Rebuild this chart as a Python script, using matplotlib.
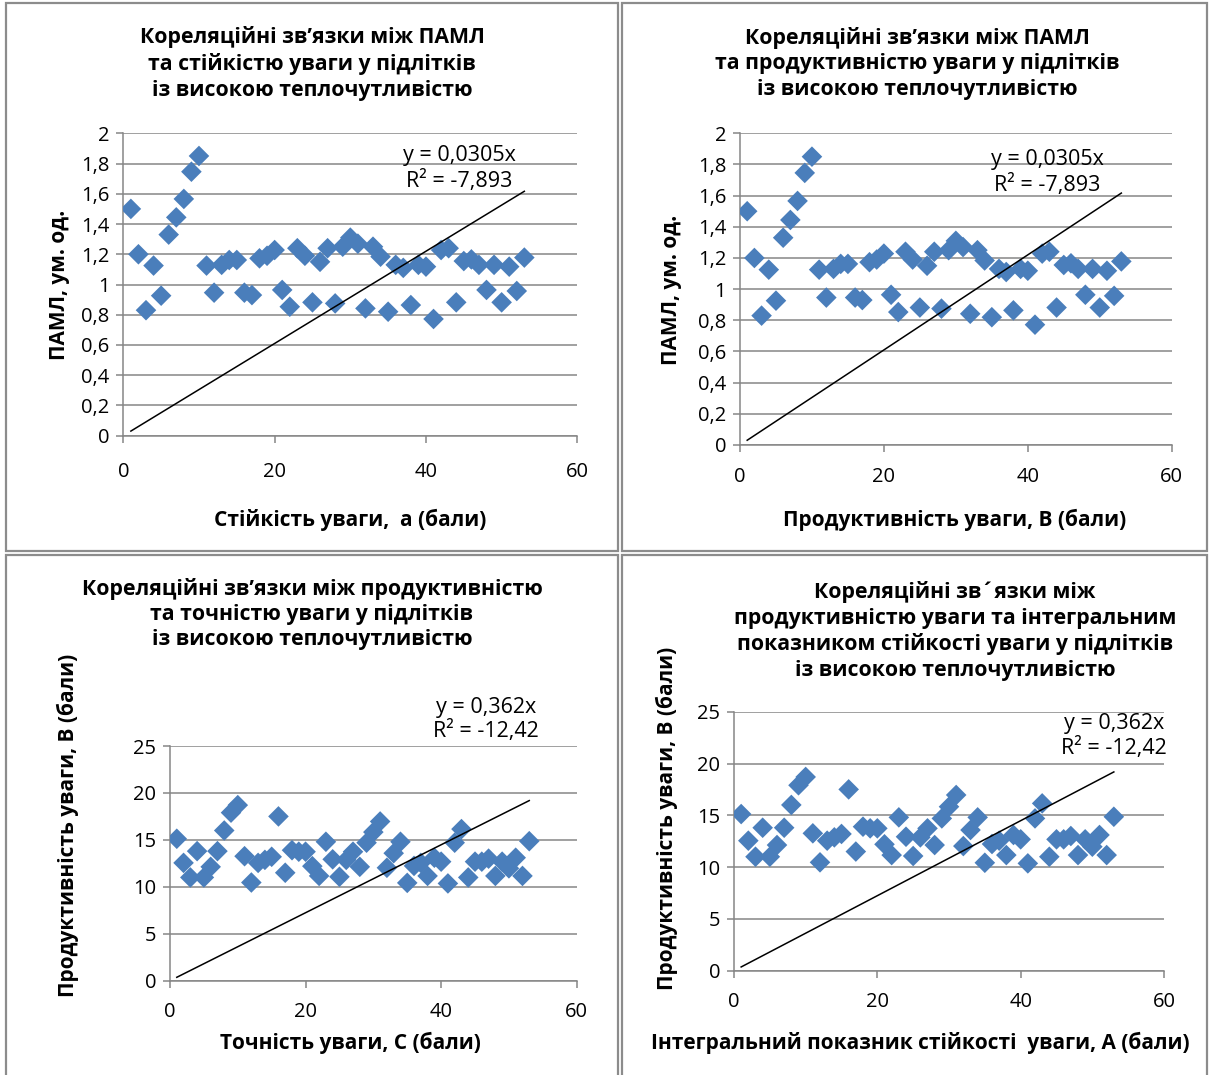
import numpy as np
import matplotlib
matplotlib.use("Agg")
import matplotlib.pyplot as plt
from matplotlib.patches import Rectangle
from matplotlib.ticker import FuncFormatter

plt.rcParams['font.family'] = ['Open Sans', 'DejaVu Sans']

# respondents (x positions of the points)
respondents = [1, 2, 3, 4, 5, 6, 7, 8, 9, 10, 11, 12, 13, 14, 15, 16, 17, 18,
               19, 20, 21, 22, 23, 24, 25, 26, 27, 28, 29, 30, 31, 32, 33, 34,
               35, 36, 37, 38, 39, 40, 41, 42, 43, 44, 45, 46, 47, 48, 49, 50,
               51, 52, 53]

# ПАМЛ values (top charts)
paml = [1.50, 1.20, 0.83, 1.125, 0.926, 1.33, 1.444, 1.566, 1.746, 1.85,
        1.125, 0.946, 1.13, 1.162, 1.162, 0.946, 0.93, 1.173, 1.19, 1.228,
        0.964, 0.853, 1.24, 1.19, 0.882, 1.15, 1.24, 0.875, 1.25, 1.31,
        1.27, 0.842, 1.25, 1.184, 0.82, 1.13, 1.11, 0.864, 1.13, 1.118,
        0.772, 1.228, 1.24, 0.882, 1.155, 1.166, 1.13, 0.964, 1.13, 0.882,
        1.118, 0.957, 1.178]

# productivity of attention (bottom charts)
productivity = [15.12, 12.55, 11.0, 13.8, 11.0, 12.13, 13.8, 16.0, 17.9, 18.7,
                13.26, 10.46, 12.55, 12.87, 13.2, 17.5, 11.5, 13.9, 13.74, 13.74,
                12.2, 11.16, 14.8, 12.93, 11.07, 12.87, 13.74, 12.13, 14.7, 15.83,
                16.96, 12.03, 13.58, 14.8, 10.42, 12.23, 12.55, 11.16, 13.1, 12.68,
                10.36, 14.7, 16.15, 11.0, 12.68, 12.68, 13.0, 11.16, 12.68, 11.97,
                13.1, 11.16, 14.86]

slope_top = 0.0305
slope_bottom = 0.362
eq_top = ["y = 0,0305x", "R² = -7,893"]
eq_bottom = ["y = 0,362x", "R² = -12,42"]

titles = [
    "Кореляційні зв’язки між ПАМЛ\nта стійкістю уваги у підлітків\nіз високою теплочутливістю",
    "Кореляційні зв’язки між ПАМЛ\nта продуктивністю уваги у підлітків\nіз високою теплочутливістю",
    "Кореляційні зв’язки між продуктивністю\nта точністю уваги у підлітків\nіз високою теплочутливістю",
    "Кореляційні зв´язки між\nпродуктивністю уваги та інтегральним\nпоказником стійкості уваги у підлітків\nіз високою теплочутливістю",
]
xlabels = ["Стійкість уваги,  а (бали)", "Продуктивність уваги, В (бали)",
           "Точність уваги, С (бали)", "Інтегральний показник стійкості  уваги, А (бали)"]
ylabels = ["ПАМЛ, ум. од.", "ПАМЛ, ум. од.",
           "Продуктивність уваги, В (бали)", "Продуктивність уваги, В (бали)"]

W, H = 1209, 1075
fig = plt.figure(figsize=(W / 100, H / 100), dpi=100)

def fx(px):
    return px / W

def fy(py):
    return 1 - py / H

# panel borders
for (x0, y0, x1, y1) in [(6, 3, 618, 551), (622, 3, 1207, 551),
                         (6, 555, 618, 1080), (622, 555, 1207, 1080)]:
    fig.patches.append(Rectangle((fx(x0), fy(y1)), fx(x1 - x0), (y1 - y0) / H,
                                 transform=fig.transFigure, fill=False,
                                 edgecolor='#8c8c8c', lw=1.6))

grey = '#868686'
blue = '#4a7ebb'

def comma(v, pos):
    s = ('%.1f' % v).rstrip('0').rstrip('.')
    return s.replace('.', ',')

# axes boxes in pixels: left, top, right, bottom
boxes = [(123.3, 133.3, 577.3, 435.7), (740, 133.3, 1171.7, 445),
         (170, 746, 576.7, 980.7), (734, 711.7, 1164, 970.7)]

panels = [
    dict(y=paml, slope=slope_top, eq=eq_top, ylim=2, ystep=0.2),
    dict(y=paml, slope=slope_top, eq=eq_top, ylim=2, ystep=0.2),
    dict(y=productivity, slope=slope_bottom, eq=eq_bottom, ylim=25, ystep=5),
    dict(y=productivity, slope=slope_bottom, eq=eq_bottom, ylim=25, ystep=5),
]

xtick_pad = [14, 11, 10, 10]
for i, (box, p) in enumerate(zip(boxes, panels)):
    l, t, r, b = box
    ax = fig.add_axes([fx(l), fy(b), fx(r - l), (b - t) / H])
    ax.scatter(respondents, p['y'], marker='D', s=110, color=blue,
               edgecolors='none', zorder=3)
    xs = np.array([respondents[0], respondents[-1]])
    ax.plot(xs, p['slope'] * xs, color='black', lw=1.1, zorder=4)
    ax.set_xlim(0, 60)
    ax.set_ylim(0, p['ylim'])
    ax.set_xticks([0, 20, 40, 60])
    ax.set_yticks(np.arange(0, p['ylim'] + p['ystep'] / 2, p['ystep']))
    ax.yaxis.set_major_formatter(FuncFormatter(comma))
    ax.grid(axis='y', color=grey, lw=1.1)
    ax.set_axisbelow(True)
    for side in ['top', 'right']:
        ax.spines[side].set_visible(False)
    for side in ['left', 'bottom']:
        ax.spines[side].set_color(grey)
        ax.spines[side].set_linewidth(1.1)
    ax.tick_params(axis='both', direction='out', length=5, width=1.1,
                   color=grey, labelsize=14.5)
    ax.tick_params(axis='x', pad=xtick_pad[i])
    ax.tick_params(axis='y', pad=5)

# titles
title_pos = [(312, 63.5), (917, 63.5), (312, 614), (955, 631)]
for (x, y), txt in zip(title_pos, titles):
    fig.text(fx(x), fy(y), txt, ha='center', va='center', fontsize=15.3,
             fontweight='bold', linespacing=1.28)

# axis labels
xlab_pos = [(350, 520), (955, 520), (350, 1043), (920, 1043)]
for (x, y), txt in zip(xlab_pos, xlabels):
    fig.text(fx(x), fy(y), txt, ha='center', va='center', fontsize=15,
             fontweight='bold')
ylab_pos = [(60, 285), (672, 290), (68, 825), (667, 818)]
for (x, y), txt in zip(ylab_pos, ylabels):
    fig.text(fx(x), fy(y), txt, ha='center', va='center', fontsize=15,
             fontweight='bold', rotation=90)

# trend-line equations
eq_pos = [(459, 155, 181), (1047, 160, 185), (486, 707, 731), (1114, 723, 748)]
for (x, y1, y2), p in zip(eq_pos, panels):
    fig.text(fx(x), fy(y1), p['eq'][0], ha='center', va='center', fontsize=15.5)
    fig.text(fx(x), fy(y2), p['eq'][1], ha='center', va='center', fontsize=15.5)

plt.savefig("out.png", dpi=100)
